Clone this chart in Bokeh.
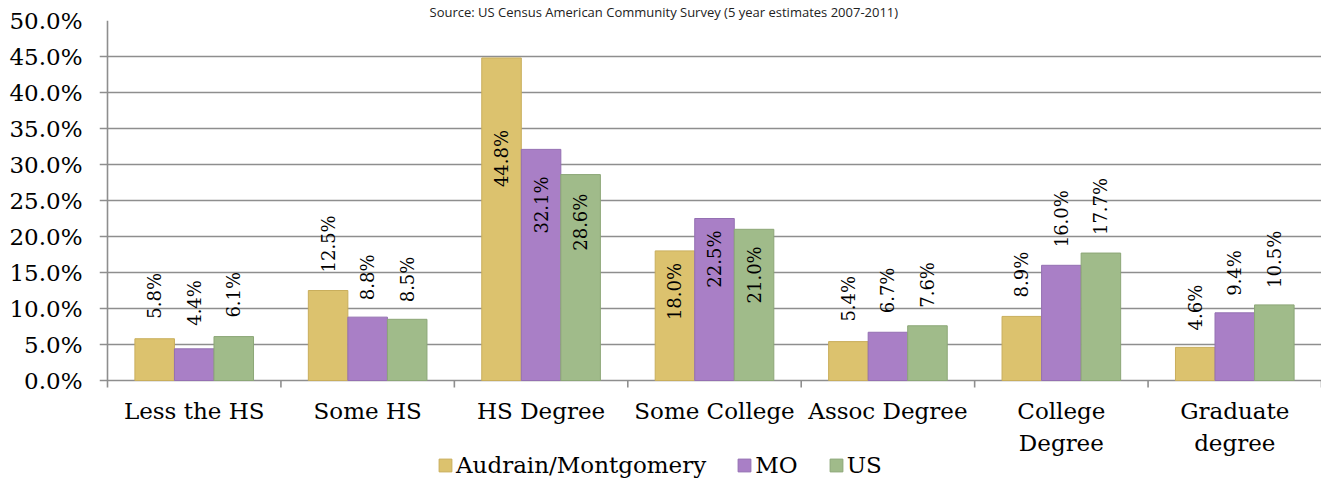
import math
from bokeh.plotting import figure
from bokeh.models import (ColumnDataSource, FixedTicker, NumeralTickFormatter,
                          Legend, LegendItem, Range1d, Title)
from bokeh.core.properties import value
from bokeh.embed import file_html
from bokeh.resources import INLINE

# ---------------- data ----------------
categories = ["Less the HS", "Some HS", "HS Degree", "Some College",
              "Assoc Degree", "College Degree", "Graduate degree"]
category_labels = ["Less the HS", "Some HS", "HS Degree", "Some College",
                   "Assoc Degree", "College\nDegree", "Graduate\ndegree"]
series_names = ["Audrain/Montgomery", "MO", "US"]
audrain = [5.8, 12.5, 44.8, 18.0, 5.4, 8.9, 4.6]
mo = [4.4, 8.8, 32.1, 22.5, 6.7, 16.0, 9.4]
us = [6.1, 8.5, 28.6, 21.0, 7.6, 17.7, 10.5]
y_ticks = [0.0, 5.0, 10.0, 15.0, 20.0, 25.0, 30.0, 35.0, 40.0, 45.0, 50.0]
title_text = "Source: US Census American Community Survey (5 year estimates 2007-2011)"

# ---------------- style ----------------
colors = ["#DCC26E", "#A97FC6", "#A0BB8A"]
borders = ["#C9AE5C", "#9470B2", "#8CA777"]
# label placement in px: positive = gap above bar top, negative = inside, below bar top
label_shift = [
    [20, 18, -72, -12, 20, 19, 17],
    [23, 17, -27, -12, 19, 18, 17],
    [19, 17, -19, -17, 18, 18, 17],
]
bar_w = 0.228
grey = "#8E8E8E"
SERIF = "DejaVu Serif"

n = len(categories)
CAT_PX = 173.4          # width of one category, px
TICK_PX = 8             # y tick length (gridline extends left of the axis)
PLOT_PX = 360           # height of the 0..50% band
BELOW_PX = 100          # room below the 0 line for labels and legend
ymax = y_ticks[-1] / 100
px_per_unit = PLOT_PX / ymax
ymin = -BELOW_PX / px_per_unit

p = figure(frame_width=int(round(TICK_PX + n * CAT_PX)), frame_height=PLOT_PX + BELOW_PX,
           x_range=Range1d(-TICK_PX / CAT_PX, n), y_range=Range1d(ymin, ymax),
           output_backend="svg", toolbar_location=None, x_axis_location=None,
           min_border_left=99, min_border_right=0, min_border_top=0,
           min_border_bottom=0)
p.outline_line_color = None
p.background_fill_color = "white"
p.border_fill_color = "white"

p.add_layout(Title(text=title_text, align="left", text_font_size="13px",
                   text_font="Open Sans", text_font_style="normal",
                   text_color="#222222", standoff=0, offset=330), "above")

# grid (extends left of the axis line, acting as the y tick marks)
p.xgrid.visible = False
p.ygrid.ticker = FixedTicker(ticks=[t / 100 for t in y_ticks])
p.ygrid.grid_line_color = grey
p.ygrid.grid_line_width = 1.6

# y axis: labels only; the axis line is drawn over the 0..50% band
p.yaxis.ticker = FixedTicker(ticks=[t / 100 for t in y_ticks])
p.yaxis.formatter = NumeralTickFormatter(format="0.0%")
p.yaxis.major_label_text_font = SERIF
p.yaxis.major_label_text_font_size = "23px"
p.yaxis.major_label_text_color = "black"
p.yaxis.major_tick_out = 0
p.yaxis.major_tick_in = 0
p.yaxis.major_tick_line_color = None
p.yaxis.minor_tick_line_color = None
p.yaxis.axis_line_color = None
p.yaxis.major_label_standoff = 17

p.segment(x0=[0], y0=[0], x1=[0], y1=[ymax], line_color=grey, line_width=1.6)

# category separators below the axis
bounds = list(range(n + 1))
p.segment(x0=bounds, y0=[0] * len(bounds), x1=bounds,
          y1=[-7 / px_per_unit] * len(bounds), line_color=grey, line_width=1.6)

# category labels
centers = [i + 0.5 for i in range(n)]
p.text(x=centers, y=[0] * n, text=category_labels, y_offset=17,
       text_align="center", text_baseline="top", text_font=value(SERIF),
       text_font_size="23px", text_line_height=1.26, text_color="black")

# bars and labels
items = []
for j, (name, vals) in enumerate(zip(series_names, [audrain, mo, us])):
    xs = [i + 0.5 + (j - 1) * bar_w for i in range(n)]
    tops = [v / 100 for v in vals]
    src = ColumnDataSource(dict(x=xs, top=tops))
    r = p.vbar(x="x", top="top", width=bar_w, bottom=0, source=src,
               fill_color=colors[j], line_color=borders[j], line_width=1)
    items.append(LegendItem(label=name, renderers=[r]))

    out_src = ColumnDataSource(dict(
        x=[x for x, s in zip(xs, label_shift[j]) if s > 0],
        y=[t for t, s in zip(tops, label_shift[j]) if s > 0],
        txt=[f"{v:.1f}%" for v, s in zip(vals, label_shift[j]) if s > 0],
        off=[-s for s in label_shift[j] if s > 0]))
    p.text(x="x", y="y", text="txt", y_offset="off", source=out_src,
           angle=math.pi / 2, text_align="left", text_baseline="middle",
           text_font=value(SERIF), text_font_size="18px", text_color="black")
    in_src = ColumnDataSource(dict(
        x=[x for x, s in zip(xs, label_shift[j]) if s < 0],
        y=[t for t, s in zip(tops, label_shift[j]) if s < 0],
        txt=[f"{v:.1f}%" for v, s in zip(vals, label_shift[j]) if s < 0],
        off=[-s for s in label_shift[j] if s < 0]))
    p.text(x="x", y="y", text="txt", y_offset="off", source=in_src,
           angle=math.pi / 2, text_align="right", text_baseline="middle",
           text_font=value(SERIF), text_font_size="18px", text_color="black")

legend = Legend(items=items, orientation="horizontal", location=(338, 2),
                border_line_color=None, background_fill_alpha=0,
                label_text_font=SERIF, label_text_font_size="23px",
                label_text_color="black", glyph_width=16, glyph_height=16,
                label_height=16, label_standoff=3, spacing=30, padding=0,
                margin=0)
p.add_layout(legend, "center")

open("out.html", "w").write(file_html(p, INLINE))
